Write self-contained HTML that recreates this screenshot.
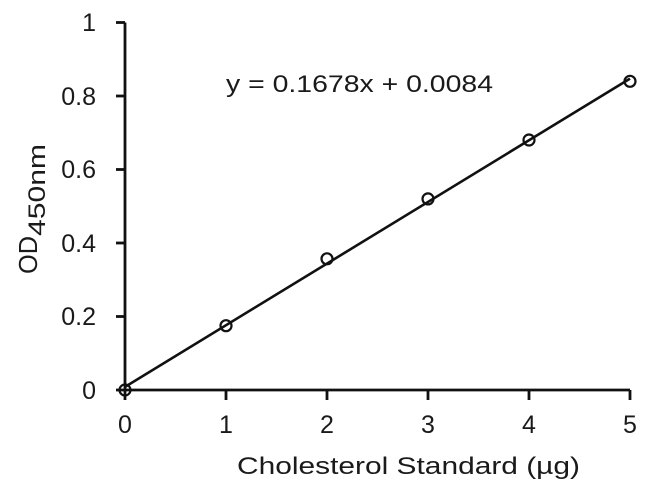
<!DOCTYPE html>
<html><head><style>body{margin:0;background:#fff}svg{display:block}</style></head><body>
<svg width="650" height="491" xmlns="http://www.w3.org/2000/svg" font-family="Liberation Sans, sans-serif" fill="#1a1a1a">
<g stroke="#111" stroke-width="2.8" fill="none">
<line x1="125" y1="22.5" x2="125" y2="390"/>
<line x1="125" y1="390" x2="630" y2="390"/>
<line x1="116" y1="22.5" x2="125" y2="22.5"/>
<line x1="116" y1="96" x2="125" y2="96"/>
<line x1="116" y1="169.5" x2="125" y2="169.5"/>
<line x1="116" y1="243" x2="125" y2="243"/>
<line x1="116" y1="316.5" x2="125" y2="316.5"/>
<line x1="116" y1="390" x2="125" y2="390"/>
<line x1="125" y1="390" x2="125" y2="400"/>
<line x1="226" y1="390" x2="226" y2="400"/>
<line x1="327" y1="390" x2="327" y2="400"/>
<line x1="428" y1="390" x2="428" y2="400"/>
<line x1="529" y1="390" x2="529" y2="400"/>
<line x1="630" y1="390" x2="630" y2="400"/>
<line x1="125" y1="386.9" x2="630" y2="78.6" stroke-width="2.6"/>
<g stroke-width="2.2">
<circle cx="125" cy="390" r="5.5"/>
<circle cx="226" cy="325.7" r="5.5"/>
<circle cx="327" cy="258.8" r="5.5"/>
<circle cx="428" cy="198.9" r="5.5"/>
<circle cx="529" cy="140" r="5.5"/>
<circle cx="630" cy="81.3" r="5.5"/>
</g>
</g>
<g font-size="25" text-anchor="end">
<text x="96" y="31">1</text>
<text x="96" y="105">0.8</text>
<text x="96" y="178">0.6</text>
<text x="96" y="252">0.4</text>
<text x="96" y="325">0.2</text>
<text x="96" y="399">0</text>
</g>
<g font-size="25" text-anchor="middle">
<text x="125" y="433">0</text>
<text x="226" y="433">1</text>
<text x="327" y="433">2</text>
<text x="428" y="433">3</text>
<text x="529" y="433">4</text>
<text x="630" y="433">5</text>
</g>
<text x="237" y="474" font-size="24" textLength="343" lengthAdjust="spacingAndGlyphs">Cholesterol Standard (µg)</text>
<text x="226" y="92" font-size="24" textLength="267" lengthAdjust="spacingAndGlyphs">y = 0.1678x + 0.0084</text>
<text transform="translate(37,274) rotate(-90)" font-size="26"><tspan textLength="38" lengthAdjust="spacingAndGlyphs">OD</tspan><tspan font-size="24" dy="8" textLength="92" lengthAdjust="spacingAndGlyphs">450nm</tspan></text>
</svg>
</body></html>
